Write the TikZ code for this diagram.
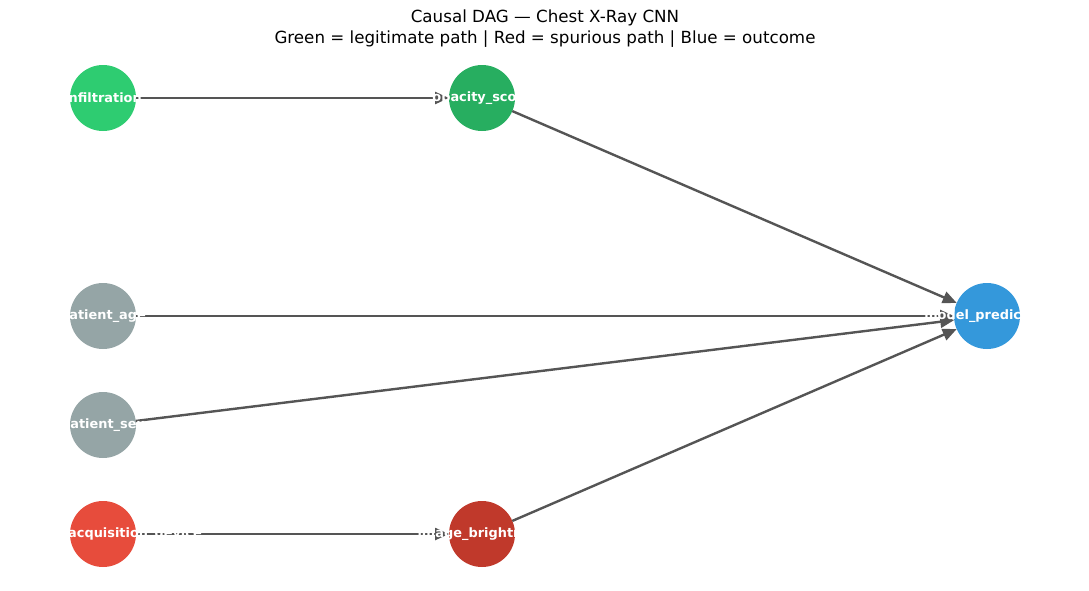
\documentclass[tikz,border=0pt]{standalone}
\usepackage{fontspec}
\setmainfont{DejaVu Sans}
\usetikzlibrary{arrows.meta}
\definecolor{cgreenA}{HTML}{2ECC71}
\definecolor{cgreenB}{HTML}{27AE60}
\definecolor{cgray}{HTML}{95A5A6}
\definecolor{credA}{HTML}{E74C3C}
\definecolor{credB}{HTML}{C0392B}
\definecolor{cblue}{HTML}{3498DB}
\definecolor{cedge}{HTML}{555555}
\begin{document}
\begin{tikzpicture}[x=1pt,y=-1pt,
  vert/.style={circle, minimum size=66pt, inner sep=0pt, outer sep=0pt, draw=none},
  lab/.style={text=white, font=\fontsize{12.9}{15}\selectfont\bfseries, inner sep=0pt},
  edge/.style={draw=cedge, line width=2.4pt, -{Triangle[length=14pt,width=12pt]}},
  ttl/.style={align=center, font=\fontsize{16.7}{21}\selectfont, inner sep=0pt}]
\useasboundingbox (0,0) rectangle (1089,590);
\node[ttl] (title) at (545,29) {Causal DAG — Chest X-Ray CNN\\Green = legitimate path | Red = spurious path | Blue = outcome};
\node[vert, fill=cgreenA] (inf) at (103,98) {};
\node[vert, fill=cgreenB] (opa) at (482,98) {};
\node[vert, fill=cgray] (age) at (103,316) {};
\node[vert, fill=cgray] (sex) at (103,425) {};
\node[vert, fill=credA] (acq) at (103,534) {};
\node[vert, fill=credB] (bri) at (482,534) {};
\node[vert, fill=cblue] (pred) at (987,316) {};
\draw[edge] (inf) -- (opa);
\draw[edge] (opa) -- (pred);
\draw[edge] (age) -- (pred);
\draw[edge] (sex) -- (pred);
\draw[edge] (acq) -- (bri);
\draw[edge] (bri) -- (pred);
\node[lab] at (inf) {infiltration};
\node[lab] at (opa) {opacity\_score};
\node[lab] at (age) {patient\_age};
\node[lab] at (sex) {patient\_sex};
\node[lab] at (acq) {scanner\_acquisition\_device};
\node[lab] at (bri) {image\_brightness};
\node[lab] at (pred) {model\_prediction};
\end{tikzpicture}
\end{document}
